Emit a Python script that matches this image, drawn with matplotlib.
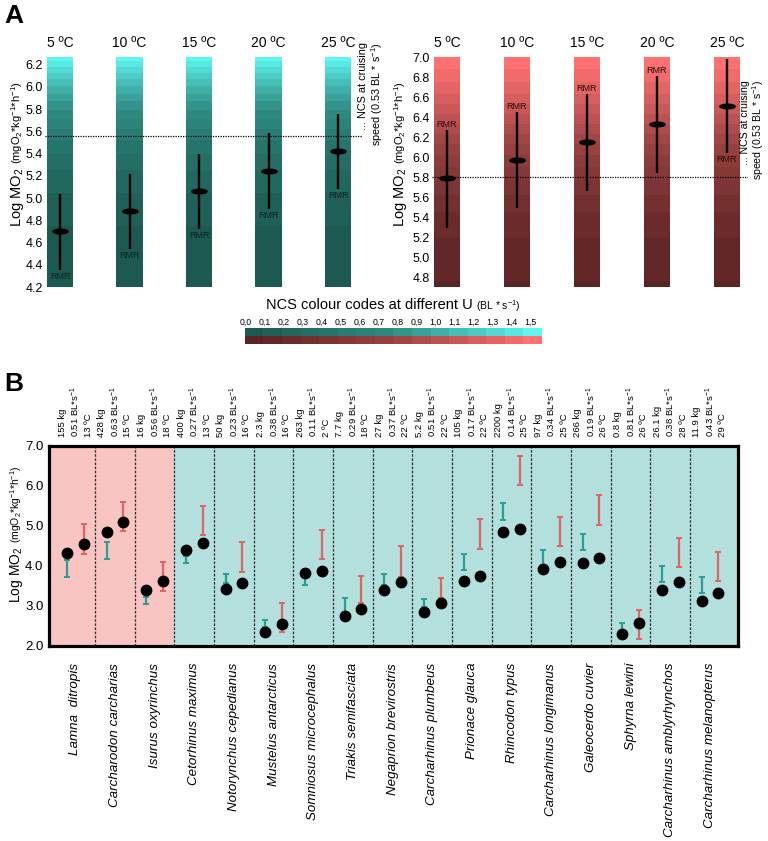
import numpy as np
import matplotlib.pyplot as plt
from matplotlib.colors import LinearSegmentedColormap
from matplotlib.markers import MarkerStyle
from matplotlib.transforms import Affine2D, blended_transform_factory

plt.rcParams['font.family'] = ['Liberation Sans', 'DejaVu Sans']
plt.rcParams['mathtext.fontset'] = 'custom'
plt.rcParams['mathtext.rm'] = 'Liberation Sans'
plt.rcParams['mathtext.it'] = 'Liberation Sans:italic'

# ---------------- data: panel A ----------------
temps = ["5 ºC", "10 ºC", "15 ºC", "20 ºC", "25 ºC"]
teal_mean = [4.70, 4.88, 5.06, 5.24, 5.42]
teal_low = [4.35, 4.54, 4.72, 4.90, 5.08]
teal_high = [5.04, 5.22, 5.40, 5.59, 5.76]
red_mean = [5.79, 5.97, 6.15, 6.33, 6.51]
red_low = [5.30, 5.49, 5.66, 5.84, 6.04]
red_high = [6.27, 6.45, 6.63, 6.81, 6.98]
red_rmr_above = [True, True, True, True, False]
cruise_teal = 5.56
cruise_red = 5.80
# band edges of the NCS colour steps (U = 0.0 ... 1.5 BL/s)
teal_edges = [4.20, 4.75, 5.05, 5.25, 5.40, 5.52, 5.62, 5.71, 5.79, 5.87,
              5.94, 6.01, 6.07, 6.13, 6.18, 6.23, 6.27]
red_edges = [4.707, 4.77, 5.20, 5.45, 5.62, 5.77, 5.90, 6.02, 6.13, 6.23,
             6.33, 6.43, 6.53, 6.63, 6.75, 6.88, 7.00]
u_labels = ["0,0", "0,1", "0,2", "0,3", "0,4", "0,5", "0,6", "0,7",
            "0,8", "0,9", "1,0", "1,1", "1,2", "1,3", "1,4", "1,5"]

# ---------------- data: panel B ----------------
species = ["Lamna  ditropis", "Carcharodon carcharias", "Isurus oxyrinchus",
           "Cetorhinus maximus", "Notorynchus cepedianus", "Mustelus antarcticus",
           "Somniosus microcephalus", "Triakis semifasciata", "Negaprion brevirostris",
           "Carcharhinus plumbeus", "Prionace glauca", "Rhincodon typus",
           "Carcharhinus longimanus", "Galeocerdo cuvier", "Sphyrna lewini",
           "Carcharhinus amblyrhynchos", "Carcharhinus melanopterus"]
mass = ["155", "428", "16", "400", "50", "2.3", "263", "7.7", "27", "5.2",
        "105", "2200", "97", "266", "0.8", "26.1", "11.9"]
speed = ["0.51", "0.63", "0.56", "0.27", "0.23", "0.38", "0.11", "0.29", "0.37",
         "0.51", "0.17", "0.14", "0.34", "0.19", "0.81", "0.38", "0.43"]
water_t = ["13", "15", "18", "13", "16", "16", "2", "18", "22", "22", "22",
           "25", "25", "26", "26", "28", "29"]
n_pink = 3
dot_a = [4.33, 4.86, 3.40, 4.40, 3.43, 2.36, 3.83, 2.75, 3.40, 2.86, 3.63,
         4.84, 3.92, 4.07, 2.31, 3.40, 3.13]
dot_b = [4.55, 5.11, 3.62, 4.57, 3.57, 2.54, 3.88, 2.92, 3.59, 3.07, 3.74,
         4.92, 4.09, 4.20, 2.57, 3.59, 3.33]
teal_lo = [3.73, 4.18, 3.05, 4.08, 3.57, 2.48, 3.53, 2.85, 3.53, 2.98, 3.90,
           5.15, 4.03, 4.40, 2.40, 3.61, 3.32]
teal_hi = [4.15, 4.60, 3.23, 4.25, 3.81, 2.65, 3.71, 3.19, 3.79, 3.18, 4.31,
           5.58, 4.39, 4.81, 2.58, 4.00, 3.73]
red_lo = [4.31, 4.87, 3.37, 4.77, 3.86, 2.34, 4.17, 3.07, 3.73, 3.19, 4.42,
          6.02, 4.50, 5.03, 2.18, 3.97, 3.63]
red_hi = [5.04, 5.60, 4.11, 5.51, 4.59, 3.08, 4.90, 3.75, 4.51, 3.71, 5.17,
          6.76, 5.23, 5.77, 2.90, 4.70, 4.36]

# ---------------- layout helpers ----------------
W, H = 768, 841
fig = plt.figure(figsize=(W / 100, H / 100), dpi=100)


def px_axes(x0, y0, x1, y1):
    return fig.add_axes([x0 / W, 1 - y1 / H, (x1 - x0) / W, (y1 - y0) / H])


def ftext(x, y, s, **kw):
    return fig.text(x / W, 1 - y / H, s, **kw)


def ylabel_two(x, y, size_big, size_small, gap=4):
    t = ftext(x, y, "Log MO$_2$", rotation=90, rotation_mode="anchor",
              ha="left", va="baseline", fontsize=size_big)
    bb = t.get_window_extent(fig.canvas.get_renderer())
    y2 = H - bb.y1 - gap
    ftext(x, y2, "(mgO$_2$*kg$^{-1}$*h$^{-1}$)", rotation=90,
          rotation_mode="anchor", ha="left", va="baseline", fontsize=size_small)


teal_cmap = LinearSegmentedColormap.from_list("teal", ["#1C5A51", "#2F8D84", "#5DF7F1"])
red_cmap = LinearSegmentedColormap.from_list("red", ["#5B2323", "#9A4242", "#FF7171"])
band_teal = [teal_cmap(i / 15) for i in range(16)]
band_red = [red_cmap(i / 15) for i in range(16)]

ell = MarkerStyle("o", transform=Affine2D().scale(1.0, 0.3))


def panel_a(ax, means, lows, highs, edges, colors, cruise, rmr_above, rmr_col):
    x = np.arange(len(temps))
    for xi in x:
        for k in range(16):
            ax.bar(xi, edges[k + 1] - edges[k], bottom=edges[k], width=0.375,
                   color=colors[k], linewidth=0)
    ax.vlines(x, lows, highs, color="black", lw=1.7, zorder=3)
    ax.plot(x, means, ls="none", marker=ell, ms=11, color="black", zorder=4)
    for xi, lo, hi, above in zip(x, lows, highs, rmr_above):
        if above:
            ax.text(xi, hi + 0.015, "RMR", ha="center", va="bottom", fontsize=6.5, color=rmr_col)
        else:
            ax.text(xi, lo - 0.015, "RMR", ha="center", va="top", fontsize=6.5, color=rmr_col)
    ax.axhline(cruise, color="black", lw=0.9, ls=(0, (1, 1)), zorder=2)
    tr = blended_transform_factory(ax.transData, ax.transAxes)
    for xi, t in zip(x, temps):
        ax.text(xi, 1.06, t, transform=tr, ha="center", va="center", fontsize=10)
    for s in ax.spines.values():
        s.set_visible(False)
    ax.set_xticks([])
    ax.tick_params(axis="y", length=0, pad=1.5, labelsize=9)


# ---------------- panel A ----------------
axL = px_axes(45, 57, 362, 287)
panel_a(axL, teal_mean, teal_low, teal_high, teal_edges, band_teal, cruise_teal,
        [False] * 5, "#0B2420")
axL.set_xlim(-0.216, 4.345)
axL.set_ylim(4.2, 6.27)
axL.set_yticks(np.arange(4.2, 6.21, 0.2))
axL.set_yticklabels([f"{v:.1f}" for v in np.arange(4.2, 6.21, 0.2)])

axR = px_axes(432, 57, 748, 287)
panel_a(axR, red_mean, red_low, red_high, red_edges, band_red, cruise_red,
        red_rmr_above, "#2E0C0C")
axR.set_xlim(-0.214, 4.30)
axR.set_ylim(4.707, 7.0)
axR.set_yticks(np.arange(4.8, 7.01, 0.2))
axR.set_yticklabels([f"{v:.1f}" for v in np.arange(4.8, 7.01, 0.2)])

note = "... NCS at cruising\nspeed (0.53 BL * s$^{-1}$)"
ftext(358, 146, note, rotation=90, ha="left", va="bottom",
      multialignment="right", fontsize=7.8, linespacing=1.1)
ftext(740, 180, note, rotation=90, ha="left", va="bottom",
      multialignment="right", fontsize=7.6, linespacing=1.05)

ylabel_two(21, 227, 10.5, 8)
ylabel_two(404, 227, 10.5, 8)

ftext(4, 16, "A", fontsize=19, fontweight="bold", va="center", ha="left")

# colour code strip
axC = px_axes(245, 328, 542, 344)
strip = np.array([[teal_cmap(i / 15)[:3] for i in range(16)],
                  [red_cmap(i / 15)[:3] for i in range(16)]])
axC.imshow(strip, aspect="auto", interpolation="nearest")
axC.set_axis_off()
for i, lab in enumerate(u_labels):
    ftext(246 + 18.95 * i, 322, lab, ha="center", va="center", fontsize=6.3)
ftext(473, 305, "NCS colour codes at different U", ha="right", va="center", fontsize=10.5)
ftext(476, 306, "(BL * s$^{-1}$)", ha="left", va="center", fontsize=7.5)

# ---------------- panel B ----------------
axB = px_axes(49, 446, 738, 646)
xs = np.arange(len(species))
axB.set_xlim(-0.66, 16.71)
axB.set_ylim(2.0, 7.0)
axB.axvspan(-0.66, n_pink - 0.5, color="#F8C5C3", lw=0, zorder=0)
axB.axvspan(n_pink - 0.5, 16.71, color="#B3DFDC", lw=0, zorder=0)
for k in range(len(species) - 1):
    axB.axvline(k + 0.5, color="#2B2B2B", lw=0.9, ls=(0, (2, 1.3)), zorder=1)

off = 0.21
ta_lo, ta_hi = np.array(teal_lo), np.array(teal_hi)
rd_lo, rd_hi = np.array(red_lo), np.array(red_hi)
axB.errorbar(xs - off, (ta_lo + ta_hi) / 2, yerr=(ta_hi - ta_lo) / 2, fmt="none",
             ecolor="#2A9E94", elinewidth=1.6, capsize=2, capthick=1.4, zorder=2)
axB.errorbar(xs + off, (rd_lo + rd_hi) / 2, yerr=(rd_hi - rd_lo) / 2, fmt="none",
             ecolor="#E06464", elinewidth=1.6, capsize=2, capthick=1.4, zorder=2)
axB.plot(xs - off, dot_a, "o", color="black", ms=7.5, zorder=3)
axB.plot(xs + off, dot_b, "o", color="black", ms=7.5, zorder=3)

for xi, m, s, t in zip(xs, mass, speed, water_t):
    axB.text(xi, 7.22, f"{m} kg\n{s} BL*s$^{{-1}}$\n{t} ºC", rotation=90,
             ha="center", va="bottom", multialignment="left", fontsize=6.8,
             linespacing=1.2)
for xi, name in zip(xs, species):
    axB.text(xi, 1.58, name, rotation=90, ha="center", va="top",
             style="italic", fontsize=9.6)

axB.set_xticks([])
axB.set_yticks([2, 3, 4, 5, 6, 7])
axB.set_yticklabels(["2.0", "3.0", "4.0", "5.0", "6.0", "7.0"])
axB.tick_params(axis="y", length=0, pad=4, labelsize=9.5)
for s in axB.spines.values():
    s.set_linewidth(2.3)

ylabel_two(20, 603, 10, 7.5)
ftext(4, 384, "B", fontsize=19, fontweight="bold", va="center", ha="left")

fig.savefig("out.png", dpi=100)
